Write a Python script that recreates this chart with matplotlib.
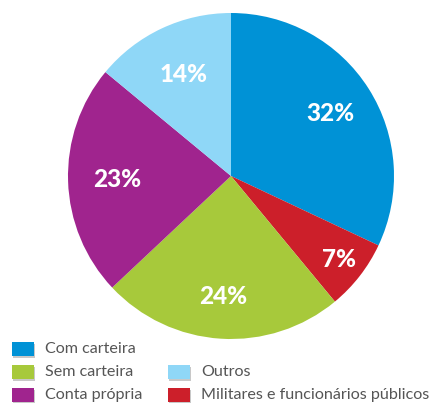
import matplotlib
matplotlib.use("Agg")
import matplotlib.pyplot as plt
from matplotlib.patches import Rectangle
import numpy as np

categories = ["Com carteira", "Militares e funcionários públicos", "Sem carteira", "Conta própria", "Outros"]
values = [32, 7, 24, 23, 14]
colors = ["#0092D6", "#CC1F2A", "#A7C93B", "#A0248E", "#8FD7F7"]
label_dist = [0.72, 0.84, 0.74, 0.70, 0.69]

legend_order = ["Com carteira", "Sem carteira", "Conta própria", "Outros", "Militares e funcionários públicos"]
legend_pos = [(0, 0), (0, 1), (0, 2), (1, 1), (1, 2)]  # (column, row)

plt.rcParams['font.family'] = ['Lato', 'DejaVu Sans']

W, H = 431, 403
fig = plt.figure(figsize=(W / 100, H / 100), dpi=100)
ax = fig.add_axes([68 / W, (H - 339) / H, 326 / W, 326 / H])
wedges, _ = ax.pie(values, colors=colors, startangle=90, counterclock=False,
                   wedgeprops=dict(linewidth=0))
ax.set_xlim(-1, 1)
ax.set_ylim(-1, 1)
ax.set_aspect('auto')
ax.axis('off')

for w, v, d in zip(wedges, values, label_dist):
    ang = np.deg2rad((w.theta1 + w.theta2) / 2)
    ax.text(d * np.cos(ang), d * np.sin(ang), f"{v}%", ha='center', va='center',
            color='white', fontsize=17.5, fontweight='black')

col_x = [12, 168]
row_y = [349, 372, 395]
for name, (c, r) in zip(legend_order, legend_pos):
    col = colors[categories.index(name)]
    x0 = col_x[c]
    yc = row_y[r]
    # shadow
    fig.patches.append(Rectangle(((x0 + 1.5) / W, (H - yc - 7 - 1.5) / H), 22 / W, 14 / H,
                                 transform=fig.transFigure, facecolor='#c8c8c8', edgecolor='none'))
    fig.patches.append(Rectangle((x0 / W, (H - yc - 7) / H), 22 / W, 14 / H,
                                 transform=fig.transFigure, facecolor=col, edgecolor='none'))
    fig.text((x0 + 33) / W, (H - yc) / H, name, ha='left', va='center',
             fontsize=11.6, color='#555555')

fig.savefig("out.png", dpi=100)
